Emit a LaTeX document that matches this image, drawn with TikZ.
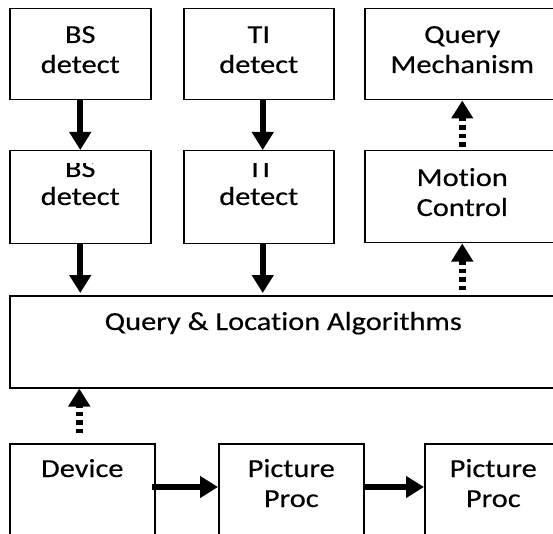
\documentclass[tikz,border=0pt]{standalone}
\usepackage{fontspec}
\setmainfont{Carlito}[FakeStretch=1.17, FakeBold=0.4, Ligatures=NoCommon]
\usetikzlibrary{arrows.meta}
\begin{document}
\begin{tikzpicture}[x=1pt, y=-1pt,
	box/.style={draw, line width=1.5pt, anchor=north west, inner sep=0pt},
	txt/.style={align=center, anchor=base, inner sep=0pt, font=\fontsize{26}{30}\selectfont},
	flow/.style={line width=6pt, -{Triangle[width=21pt,length=18pt]}},
	signal/.style={line width=7pt, dash pattern=on 4.5pt off 4pt, -{Triangle[width=21pt,length=18pt]}}]
				\useasboundingbox (0,0) rectangle (553,534);
				\node[box, minimum width=141pt, minimum height=91pt] (bs1) at (9,8) {};
				\node[box, minimum width=150pt, minimum height=91pt] (ti1) at (183,8) {};
				\node[box, minimum width=195pt, minimum height=91pt] (qm) at (364,8) {};
				\node[box, minimum width=141pt, minimum height=93pt] (bs2) at (9,150) {};
				\node[box, minimum width=150pt, minimum height=93pt] (ti2) at (183,150) {};
				\node[box, minimum width=195pt, minimum height=92pt] (mc) at (364,150) {};
				\node[box, minimum width=547pt, minimum height=92pt] (ql) at (9,295) {};
				\node[box, minimum width=145pt, minimum height=94pt] (dev) at (9,443) {};
				\node[box, minimum width=145pt, minimum height=94pt] (pp1) at (218,443) {};
				\node[box, minimum width=137pt, minimum height=94pt] (pp2) at (424,443) {};
				% two-line texts sit on the baseline of their last line
				\node[txt] (bs1t) at ([yshift=-65pt]bs1.north) {BS\\detect};
				\node[txt] (ti1t) at ([yshift=-65pt]ti1.north) {TI\\detect};
				\node[txt] (qmt) at ([yshift=-65pt]qm.north) {Query\\Mechanism};
				\begin{scope}
				\clip (0,163.5) rectangle (553,243);
				\node[txt, font=\fontsize{26}{28}\selectfont] (bs2t) at ([yshift=-55pt]bs2.north) {BS\\detect};
				\node[txt, font=\fontsize{26}{28}\selectfont] (ti2t) at ([yshift=-55pt]ti2.north) {TI\\detect};
				\end{scope}
				\node[txt] (mct) at ([yshift=-66pt]mc.north) {Motion\\Control};
				\node[txt] (qlt) at ([yshift=-35pt]ql.north) {Query \& Location Algorithms};
				\node[txt] (devt) at ([yshift=-34pt]dev.north) {Device};
				\node[txt] (pp1t) at ([yshift=-64pt]pp1.north) {Picture\\Proc};
				\node[txt] (pp2t) at ([yshift=-64pt]pp2.north) {Picture\\Proc};
				\draw[flow] (bs1) -- (bs2);
				\draw[flow] ([xshift=4pt]ti1.south) -- ([xshift=4pt]ti2.north);
				\draw[flow, shorten >=2pt] (bs2.south) -- (bs2.south |- ql.north);
				\draw[flow, shorten >=2pt] ([xshift=4pt]ti2.south) -- ([xshift=4pt]ti2.south |- ql.north);
				\draw[signal, shorten <=3pt] (mc.north) -- (qm.south);
				\draw[signal, shorten <=5pt] (mc.south |- ql.north) -- (mc.south);
				\draw[signal, shorten <=10pt] ([xshift=-3pt]dev.north) -- ([xshift=-3pt]dev.north |- ql.south);
				\draw[flow, shorten <=-4pt] ([yshift=-44pt]dev.north east) -- ([yshift=-44pt]pp1.north west);
				\draw[flow, shorten <=-1pt] ([yshift=-44pt]pp1.north east) -- ([yshift=-44pt]pp2.north west);
\end{tikzpicture}
\end{document}
